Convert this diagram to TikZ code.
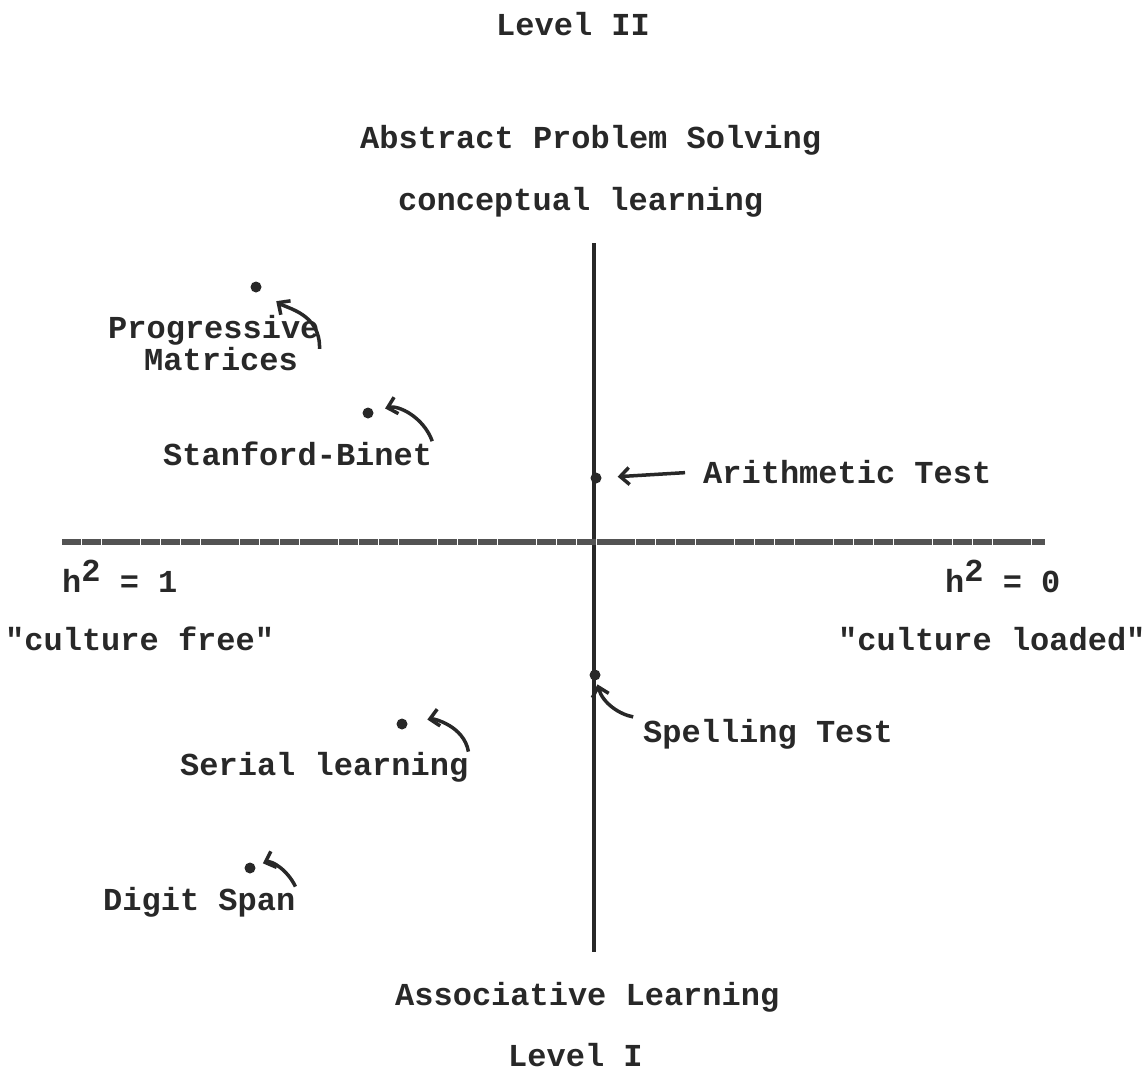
\documentclass[tikz,border=0pt]{standalone}
\usepackage{fontspec}
\newfontfamily\typer{Liberation Mono}
\usetikzlibrary{arrows.meta}
\definecolor{inkgray}{RGB}{40,40,40}

\begin{document}
\begin{tikzpicture}[x=1pt,y=1pt,
    lbl/.style={anchor=base west,inner sep=0pt,text=inkgray,font=\typer\bfseries\fontsize{32}{38}\selectfont},
    dotmark/.style={circle,fill=inkgray,inner sep=0pt,minimum size=11pt},
    pointer/.style={draw=inkgray,line width=3.5pt,-{Straight Barb[length=9pt,width=17pt]}}]
  \useasboundingbox (0,0) rectangle (1148,-1071);
  %% Axes
  \coordinate (vtop) at (594,-243);
  \coordinate (vbot) at (594,-952);
  \coordinate (hleft) at (62,-542);
  \coordinate (hright) at (1045,-542);
  \draw[inkgray,line width=3.5pt] (vtop) -- (vbot);
  \draw[inkgray!80,line width=5.5pt,dash pattern=on 19pt off 0.8pt] (hleft) -- (hright);
  %% Axis labels
  \node[lbl] (lvltwo) at (496,-35) {Level II};
  \node[lbl] (abstr) at (360,-148) {Abstract Problem Solving};
  \node[lbl] (concept) at (398,-210) {conceptual learning};
  \node[lbl] (assoc) at (395,-1005) {Associative Learning};
  \node[lbl] (lvlone) at (508,-1066) {Level I};
  \node[lbl] (hone) at (62,-592) {h\raisebox{11pt}{2} = 1};
  \node[lbl] (cfree) at (5,-650) {"culture free"};
  \node[lbl] (hzero) at (945,-592) {h\raisebox{11pt}{2} = 0};
  \node[lbl] (cload) at (838,-650) {"culture loaded"};
  %% Tests
  \node[dotmark] (pm) at (256,-287) {};
  \node[lbl] (pmlbl) at (108,-338) {Progressive};
  \node[lbl] (pmlbltwo) at (144,-370) {Matrices};
  \node[dotmark] (sb) at (368,-413) {};
  \node[lbl] (sblbl) at (163,-465) {Stanford-Binet};
  \node[dotmark] (ar) at (596,-478) {};
  \node[lbl] (arlbl) at (703,-483) {Arithmetic Test};
  \node[dotmark] (sp) at (595,-675) {};
  \node[lbl] (splbl) at (643,-742) {Spelling Test};
  \node[dotmark] (se) at (402,-724) {};
  \node[lbl] (selbl) at (180,-775) {Serial learning};
  \node[dotmark] (ds) at (250,-868) {};
  \node[lbl] (dslbl) at (103,-910) {Digit Span};
  %% Pointers
  \draw[pointer,shorten <=-4pt,shorten >=19pt] (pmlbl.south east) to[out=88,in=-35] (pm);
  \draw[pointer,shorten >=12pt] (sblbl.north east) to[out=110,in=15] (sb);
  \draw[pointer,shorten <=18pt,shorten >=16pt] (arlbl.west) -- (ar);
  \draw[pointer,shorten <=10pt,shorten >=4pt] (splbl.north west) to[out=170,in=-75] (sp);
  \draw[pointer,shorten >=20pt] (selbl.north east) to[out=100,in=10] (se);
  \draw[pointer,shorten >=8pt] (dslbl.north east) to[out=115,in=20] (ds);
\end{tikzpicture}
\end{document}
